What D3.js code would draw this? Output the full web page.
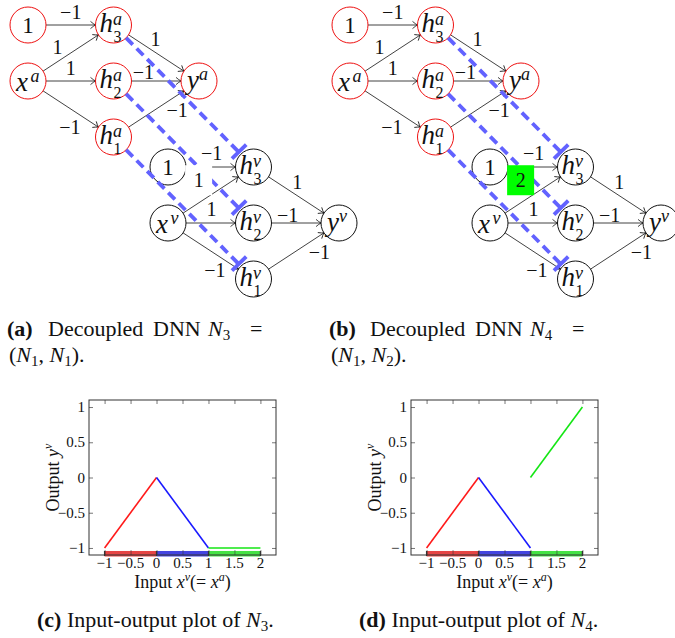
<!DOCTYPE html>
<html><head><meta charset="utf-8">
<script src="https://cdn.jsdelivr.net/npm/d3@7"></script>
<style>
body{margin:0;background:#fff;}
text{font-family:"Liberation Serif","Times New Roman",serif;fill:#111;}
</style></head><body>
<script>
// ---------------- network data ----------------
const nodeNames = ["one_a","x_a","h3_a","h2_a","h1_a","y_a","one_v","x_v","h3_v","h2_v","h1_v","y_v"];
const nodeBase  = ["1","x","h","h","h","y","1","x","h","h","h","y"];
const nodeSup   = ["","a","a","a","a","a","","v","v","v","v","v"];
const nodeSub   = ["","","3","2","1","","","","3","2","1",""];
const nodeLayer = ["a","a","a","a","a","a","v","v","v","v","v","v"];
const nodeCol   = [0,0,1,1,1,2,0,0,1,1,1,2];
const nodeRow   = [0,1,0,1,2,1,0,1,0,1,2,1];

const edgeFrom  = ["one_a","x_a","x_a","x_a","h3_a","h2_a","h1_a","one_v","x_v","x_v","x_v","h3_v","h2_v","h1_v"];
const edgeTo    = ["h3_a","h3_a","h2_a","h1_a","y_a","y_a","y_a","h3_v","h3_v","h2_v","h1_v","y_v","y_v","y_v"];
const weightsN3 = [-1,1,1,-1,1,-1,-1,-1,1,1,-1,1,-1,-1];
const weightsN4 = [-1,1,1,-1,1,-1,-1,-1,2,1,-1,1,-1,-1];
const boxedEdge = 8;

const pairFrom = ["h3_a","h2_a","h1_a"];
const pairTo   = ["h3_v","h2_v","h1_v"];

const captionTop = [
  {tag:"(a)", words:["Decoupled","DNN"], n:"3", line2:["1","1"]},
  {tag:"(b)", words:["Decoupled","DNN"], n:"4", line2:["1","2"]}
];
const captionBottom = [{tag:"(c)", n:"3"}, {tag:"(d)", n:"4"}];

// ---------------- plot data ----------------
const xTicks = [-1,-0.5,0,0.5,1,1.5,2];
const yTicks = [-1,-0.5,0,0.5,1];
const segX    = [[-1,0],[0,1],[1,2]];
const segY_N3 = [[-1,0],[0,-1],[-1,-1]];
const segY_N4 = [[-1,0],[0,-1],[0,1]];
const regionX = [[-1,0],[0,1],[1,2]];

// ---------------- styles / layout ----------------
const segColors = ["#ff1a1a","#1a1aff","#14e614"];
const barColors = ["#e64444","#4444e0","#44e244"];
const labelT   = [0.5,0.42,0.5,0.59,0.42,0.35,0.66,0.51,0.48,0.51,0.64,0.44,0.40,0.68];
const labelOff = [13,11.6,13,-15.5,11,9,-13,14,19,14,-14.4,11.3,8,-14.3];
const panelDX = 322;
const R = 18;

const W = 675, H = 638;
const svg = d3.select("body").append("svg").attr("width",W).attr("height",H);

const defs = svg.append("defs");
defs.append("marker").attr("id","arr")
  .attr("viewBox","-7 -5 8 10").attr("markerWidth",8).attr("markerHeight",10)
  .attr("markerUnits","userSpaceOnUse").attr("orient","auto").attr("refX",0).attr("refY",0)
  .append("path").attr("d","M-5,-3.6 Q-2,-1 0,0 Q-2,1 -5,3.6")
  .attr("fill","none").attr("stroke","#111").attr("stroke-width",0.8);

const colScale = d3.scaleLinear().domain([0,2]).range([0,171]);
const rowScale = d3.scaleLinear().domain([0,2]).range([0,112]);
const layerOrigin = {a:[28,25], v:[168,167]};

function fmtW(w){ return w < 0 ? "\u2212" + Math.abs(w) : String(w); }
function fmtTick(v){ return v < 0 ? "\u2212" + String(Math.abs(v)) : String(v); }

function drawNetwork(panel, weights){
  const g = svg.append("g").attr("transform",`translate(${panel*panelDX},0)`);
  const pos = {};
  nodeNames.forEach((n,i)=>{
    const o = layerOrigin[nodeLayer[i]];
    pos[n] = [o[0]+colScale(nodeCol[i]), o[1]+rowScale(nodeRow[i])];
  });
  edgeFrom.forEach((f,i)=>{
    const p1 = pos[f], p2 = pos[edgeTo[i]];
    const dx = p2[0]-p1[0], dy = p2[1]-p1[1], L = Math.hypot(dx,dy);
    const ux = dx/L, uy = dy/L;
    g.append("line")
      .attr("x1",p1[0]+R*ux).attr("y1",p1[1]+R*uy)
      .attr("x2",p2[0]-R*ux).attr("y2",p2[1]-R*uy)
      .attr("stroke","#111").attr("stroke-width",0.8)
      .attr("marker-end","url(#arr)");
  });
  nodeNames.forEach((n,i)=>{
    const [cx,cy] = pos[n];
    const ng = g.append("g").attr("transform",`translate(${cx},${cy})`);
    ng.append("circle").attr("r",R).attr("fill","none")
      .attr("stroke", nodeLayer[i]==="a" ? "#ee1111" : "#111").attr("stroke-width",1);
    const b = nodeBase[i];
    if(b==="1"){
      ng.append("text").attr("text-anchor","middle").attr("y",8)
        .style("font-size","23px").text("1");
    } else {
      const lx = {x:-12,h:-14,y:-12}[b], by = {x:10,h:7,y:8}[b];
      const sx = {x:2.5,h:-0.5,y:0}[b], sy = {x:1,h:0,y:-1}[b];
      ng.append("text").attr("x",lx).attr("y",by)
        .style("font-size","27px").style("font-style","italic").text(b);
      ng.append("text").attr("x",sx).attr("y",sy)
        .style("font-size","18px").style("font-style","italic").text(nodeSup[i]);
      if(nodeSub[i]) ng.append("text").attr("x",0).attr("y",17)
        .style("font-size","16px").text(nodeSub[i]);
    }
  });
  pairFrom.forEach((f,i)=>{
    const p1 = pos[f], p2 = pos[pairTo[i]];
    const dx = p2[0]-p1[0], dy = p2[1]-p1[1], L = Math.hypot(dx,dy);
    const ux = dx/L, uy = dy/L;
    const s = [p1[0]+R*ux, p1[1]+R*uy], e = [p2[0]-R*ux, p2[1]-R*uy];
    g.append("line").attr("x1",s[0]).attr("y1",s[1]).attr("x2",e[0]).attr("y2",e[1])
      .attr("stroke","#6262ff").attr("stroke-width",3.8).attr("stroke-dasharray","9.5,5.5");
    const bc = [e[0]-2.5*ux, e[1]-3.5*uy];
    g.append("line")
      .attr("x1",bc[0]-10*uy).attr("y1",bc[1]+10*ux)
      .attr("x2",bc[0]+10*uy).attr("y2",bc[1]-10*ux)
      .attr("stroke","#6262ff").attr("stroke-width",3.8);
  });
  edgeFrom.forEach((f,i)=>{
    const p1 = pos[f], p2 = pos[edgeTo[i]];
    const dx = p2[0]-p1[0], dy = p2[1]-p1[1], L = Math.hypot(dx,dy);
    const ux = dx/L, uy = dy/L;
    const t = labelT[i], o = labelOff[i];
    const lx = p1[0]+t*dx + o*uy, ly = p1[1]+t*dy - o*ux;
    if(i===boxedEdge){
      const changed = weightsN4[i] !== weightsN3[i] && panel===1;
      g.append("rect").attr("x",lx-13.5).attr("y",ly-15).attr("width",27).attr("height",30)
        .attr("fill", changed ? "#00ff00" : "#ffffff");
    }
    g.append("text").attr("x",lx).attr("y",ly+6.5).attr("text-anchor","middle")
      .style("font-size","20px").text(fmtW(weights[i]));
  });
}
drawNetwork(0, weightsN3);
drawNetwork(1, weightsN4);

// ---------------- captions ----------------
const capWordX = [48,153];
captionTop.forEach((c,p)=>{
  const ox = p*panelDX;
  svg.append("text").attr("x",7+ox).attr("y",336).style("font-size","22px")
    .style("font-weight","bold").text(c.tag);
  c.words.forEach((w,k)=> svg.append("text").attr("x",capWordX[k]+ox).attr("y",336)
    .style("font-size","22px").text(w));
  const tn = svg.append("text").attr("x",208+ox).attr("y",336).style("font-size","22px");
  tn.append("tspan").style("font-style","italic").text("N");
  tn.append("tspan").attr("dy",4).style("font-size","15px").text(c.n);
  svg.append("text").attr("x",250+ox).attr("y",336).style("font-size","22px").text("=");
  const t2 = svg.append("text").attr("x",9+ox).attr("y",362).style("font-size","22px");
  t2.append("tspan").text("(");
  t2.append("tspan").style("font-style","italic").text("N");
  t2.append("tspan").attr("dy",4).style("font-size","15px").text(c.line2[0]);
  t2.append("tspan").attr("dy",-4).text(", ");
  t2.append("tspan").style("font-style","italic").text("N");
  t2.append("tspan").attr("dy",4).style("font-size","15px").text(c.line2[1]);
  t2.append("tspan").attr("dy",-4).text(").");
});
captionBottom.forEach((c,p)=>{
  const ox = p*panelDX;
  const t = svg.append("text").attr("x",37+ox).attr("y",627).style("font-size","22px");
  t.append("tspan").style("font-weight","bold").text(c.tag);
  t.append("tspan").text(" Input-output plot of ");
  t.append("tspan").style("font-style","italic").text("N");
  t.append("tspan").attr("dy",4).style("font-size","15px").text(c.n);
  t.append("tspan").attr("dy",-4).text(".");
});

// ---------------- plots ----------------
function tickOnly(a, color){
  a.select(".domain").remove();
  a.selectAll("text").remove();
  a.selectAll("line").attr("stroke",color);
}
function drawPlot(panel, segY){
  const ox = panel*panelDX;
  const x = d3.scaleLinear().domain([-1.3,2.3]).range([89+ox,276+ox]);
  const y = d3.scaleLinear().domain([-1.1,1.1]).range([555,400]);
  const g = svg.append("g");
  regionX.forEach((r,i)=>{
    g.append("rect").attr("x",x(r[0])).attr("width",x(r[1])-x(r[0]))
      .attr("y",y(-1.043)).attr("height",y(-1.1)-y(-1.043)+1.5).attr("fill",barColors[i]);
  });
  g.append("g").attr("transform",`translate(0,${y(1.1)})`)
    .call(d3.axisTop(x).tickValues(xTicks).tickSize(-4)).call(a=>tickOnly(a,"#777"));
  g.append("g").attr("transform",`translate(${x(2.3)},0)`)
    .call(d3.axisRight(y).tickValues(yTicks).tickSize(-4)).call(a=>tickOnly(a,"#777"));
  g.append("g").attr("transform",`translate(0,${y(-1.1)})`)
    .call(d3.axisBottom(x).tickValues(xTicks).tickSize(-5)).call(a=>{tickOnly(a,"#333"); a.selectAll("line").attr("stroke-opacity",0.55);});
  g.append("g").attr("transform",`translate(${x(-1.3)},0)`)
    .call(d3.axisLeft(y).tickValues(yTicks).tickSize(-4)).call(a=>tickOnly(a,"#777"));
  // tick labels from scales
  g.selectAll("text.xt").data(xTicks).join("text").attr("class","xt")
    .attr("x",d=>x(d)).attr("y",568).attr("text-anchor","middle")
    .style("font-size","15px").text(fmtTick);
  g.selectAll("text.yt").data(yTicks).join("text").attr("class","yt")
    .attr("x",x(-1.3)-4).attr("y",d=>y(d)+5).attr("text-anchor","end")
    .style("font-size","15px").text(fmtTick);
  const bounds = Array.from(new Set(regionX.flat()));
  bounds.forEach(b=> g.append("line").attr("x1",x(b)).attr("x2",x(b))
    .attr("y1",y(-1.043)).attr("y2",y(-1.1)+1).attr("stroke","#333").attr("stroke-width",1.3));
  g.append("rect").attr("x",x(-1.3)).attr("y",y(1.1))
    .attr("width",x(2.3)-x(-1.3)).attr("height",y(-1.1)-y(1.1))
    .attr("fill","none").attr("stroke","#333").attr("stroke-width",1);
  const line = d3.line().x(d=>x(d[0])).y(d=>y(d[1]));
  segX.forEach((sx,i)=>{
    g.append("path").attr("d",line([[sx[0],segY[i][0]],[sx[1],segY[i][1]]]))
      .attr("fill","none").attr("stroke",segColors[i]).attr("stroke-width",1.6);
  });
  const xl = g.append("text").attr("x",(x(-1.3)+x(2.3))/2).attr("y",588)
    .attr("text-anchor","middle").style("font-size","18px");
  xl.append("tspan").text("Input ");
  xl.append("tspan").style("font-style","italic").text("x");
  xl.append("tspan").attr("dy",-7).style("font-size","12px").style("font-style","italic").text("v");
  xl.append("tspan").attr("dy",7).text("(= ");
  xl.append("tspan").style("font-style","italic").text("x");
  xl.append("tspan").attr("dy",-7).style("font-size","12px").style("font-style","italic").text("a");
  xl.append("tspan").attr("dy",7).text(")");
  const yl = g.append("text").attr("transform",`translate(${59+ox},${(y(1.1)+y(-1.1))/2}) rotate(-90)`)
    .attr("text-anchor","middle").style("font-size","18px");
  yl.append("tspan").text("Output ");
  yl.append("tspan").style("font-style","italic").text("y");
  yl.append("tspan").attr("dy",-7).style("font-size","12px").style("font-style","italic").text("v");
}
drawPlot(0, segY_N3);
drawPlot(1, segY_N4);
</script>
</body></html>
